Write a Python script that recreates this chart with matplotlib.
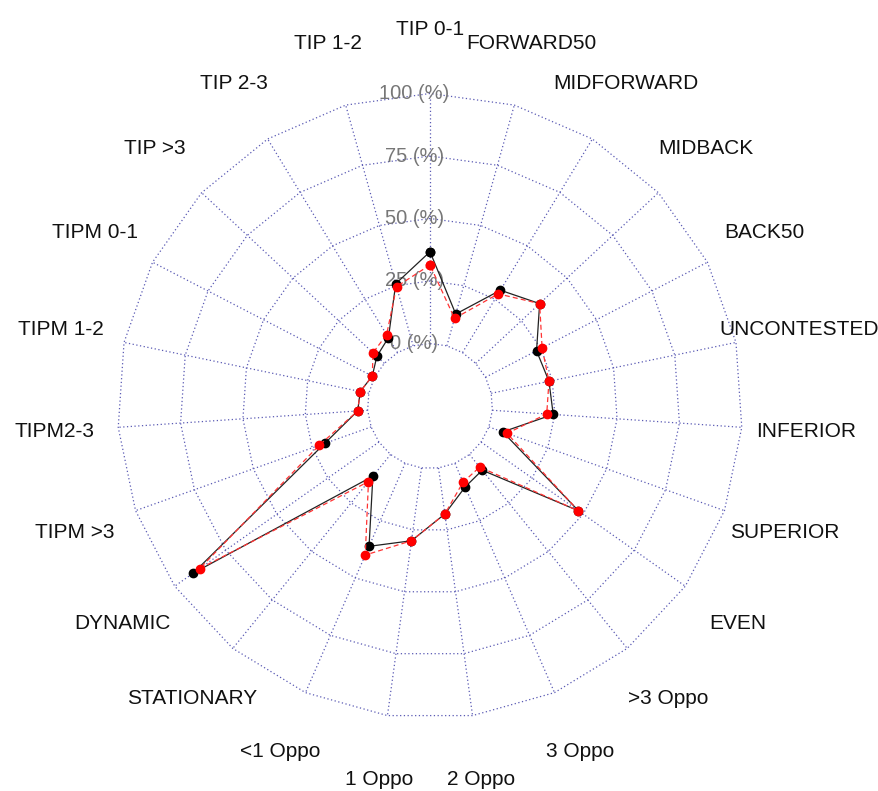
import matplotlib.pyplot as plt
import numpy as np

# axes go counter-clockwise starting at the top
labels = ["TIP 0-1", "TIP 1-2", "TIP 2-3", "TIP >3", "TIPM 0-1", "TIPM 1-2",
          "TIPM2-3", "TIPM >3", "DYNAMIC", "STATIONARY", "<1 Oppo", "1 Oppo",
          "2 Oppo", "3 Oppo", ">3 Oppo", "EVEN", "SUPERIOR", "INFERIOR",
          "UNCONTESTED", "BACK50", "MIDBACK", "MIDFORWARD", "FORWARD50"]

black_vals = [36.7, 25.8, 7.0, 4.1, 1.0, 3.5, 4.0, 19.7, 90.9, 11.2, 36.2, 29.4,
              18.6, 10.3, 8.1, 47.7, 5.9, 24.4, 23.6, 23.0, 35.0, 29.2, 13.2]
red_vals = [31.4, 24.6, 8.4, 6.2, 1.0, 3.5, 4.0, 22.1, 87.8, 14.0, 40.0, 29.4,
            18.6, 8.2, 6.5, 47.7, 7.7, 21.8, 23.6, 25.5, 35.0, 27.5, 11.4]

ring_labels = ["0 (%)", "25 (%)", "50 (%)", "75 (%)", "100 (%)"]

plt.rcParams['font.family'] = ['Liberation Sans', 'DejaVu Sans']

n = len(labels)
ang = np.pi / 2 + 2 * np.pi * np.arange(n) / n
seg = 4


def to_radius(v):
    # 0 % sits on the inner ring (radius 1), 100 % on the outer ring (radius 5)
    return 1 + seg * np.asarray(v) / 100.0


def closed(r):
    xs = np.append(r * np.cos(ang), r[0] * np.cos(ang[0]))
    ys = np.append(r * np.sin(ang), r[0] * np.sin(ang[0]))
    return xs, ys


fig = plt.figure(figsize=(8.79, 7.91), dpi=100)
ax = fig.add_axes([0, 0, 1, 1])
u = 62.5
ax.set_xlim(-430 / u, (879 - 430) / u)
ax.set_ylim(-(791 - 406) / u, 406 / u)
ax.axis('off')

grid_col = '#5a5ab4'
for i in range(seg + 1):
    xs, ys = closed(np.full(n, i + 1.0))
    ax.plot(xs, ys, color=grid_col, lw=0.9, ls=(0, (1, 2)))

for a in ang:
    ax.plot([np.cos(a), 5 * np.cos(a)], [np.sin(a), 5 * np.sin(a)],
            color=grid_col, lw=0.9, ls=(0, (1, 2)))

for i, lab in enumerate(ring_labels):
    ax.text(-0.25, i + 1, lab, ha='center', va='center', fontsize=14.5, color='#777777')

for a, lab in zip(ang, labels):
    ax.text(6.03 * np.cos(a), 6.03 * np.sin(a), lab, ha='center', va='center',
            fontsize=15, color='#111111')

xb, yb = closed(to_radius(black_vals))
ax.plot(xb, yb, color='#222222', lw=0.9, marker='o', markersize=6,
        markerfacecolor='black', markeredgecolor='black', zorder=3)

xr, yr = closed(to_radius(red_vals))
ax.plot(xr, yr, color='#ff3333', lw=0.9, ls=(0, (4, 2.5)), marker='o', markersize=6,
        markerfacecolor='red', markeredgecolor='red', zorder=4)

plt.savefig('out.png', dpi=100)
